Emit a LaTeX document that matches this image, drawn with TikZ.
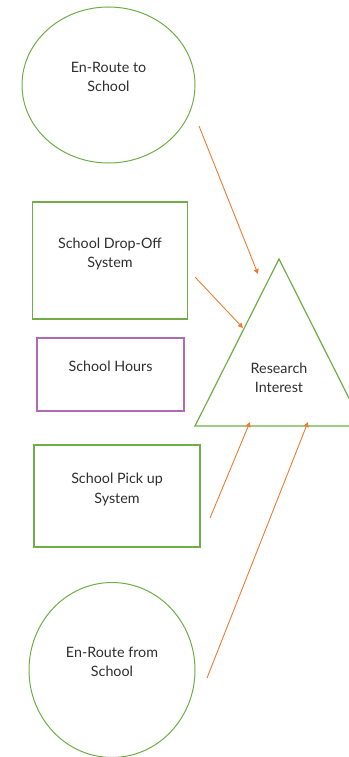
\documentclass[tikz,border=0pt]{standalone}
\usepackage{fontspec}
\setmainfont{Lato}
\usepackage{tikz}
\usetikzlibrary{arrows.meta, positioning, shapes.geometric}
\definecolor{ringgreen}{HTML}{70AD47}
\definecolor{boxpurple}{HTML}{B06AB3}
\definecolor{flowred}{HTML}{ED7D31}
\definecolor{txtgray}{HTML}{2E2E2E}
\tikzset{
  shpcirc/.style  = {draw=ringgreen, line width=1pt, ellipse, inner sep=0pt,
                     font=\fontsize{14.3}{19.5}\selectfont, text=txtgray,
                     align=center, text depth=16pt},
  shpbox/.style   = {draw=ringgreen, line width=1.2pt, rectangle, inner sep=0pt,
                     font=\fontsize{14.3}{19.5}\selectfont, text=txtgray,
                     align=center, text depth=16pt},
  shphours/.style = {shpbox, draw=boxpurple},
  shptri/.style   = {draw=ringgreen, line width=1.2pt, line join=miter},
  flow/.style     = {-{Triangle[length=5pt, width=5pt]}, flowred, line width=0.9pt},
}
\begin{document}
\begin{tikzpicture}[x=1pt, y=-1pt]
    \useasboundingbox (0,0) rectangle (348,757);
    % left column : the phases
    \node[shpcirc, minimum width=173pt, minimum height=156pt] (to)   at (108.5,85)  {En-Route to\\School};
    \node[shpbox,  minimum width=155pt, minimum height=117pt] (drop) at (110,260.5) {School Drop-Off\\System};
    \node[shphours,minimum width=147pt, minimum height=73pt]  (hrs)  at (110.5,374.5) {School Hours};
    \node[shpbox,  minimum width=166pt, minimum height=102pt] (pick) at (117,496)   {School Pick up\\System};
    \node[shpcirc, minimum width=166pt, minimum height=175pt] (from) at (112,670)   {En-Route from\\School};
    % right : research interest
    \coordinate (apex) at (279,259);
    \coordinate (bl)   at (195,426);
    \coordinate (br)   at (363,426);
    \draw[shptri] (apex) -- (bl) -- (br) -- cycle;
    \node[font=\fontsize{14.3}{19.5}\selectfont, text=txtgray, align=center] (res) at (279,378) {Research\\Interest};

    % arrow ends
    \coordinate (s1) at (199,126);  \coordinate (e1) at (258,274);
    \coordinate (s2) at (195,277);  \coordinate (e2) at (243,328);
    \coordinate (s3) at (210,518);  \coordinate (e3) at (250,422);
    \coordinate (s4) at (207,678);  \coordinate (e4) at (308,422);

    \draw[flow] (s1) -- (e1);
    \draw[flow] (s2) -- (e2);
    \draw[flow] (s3) -- (e3);
    \draw[flow] (s4) -- (e4);
\end{tikzpicture}
\end{document}
